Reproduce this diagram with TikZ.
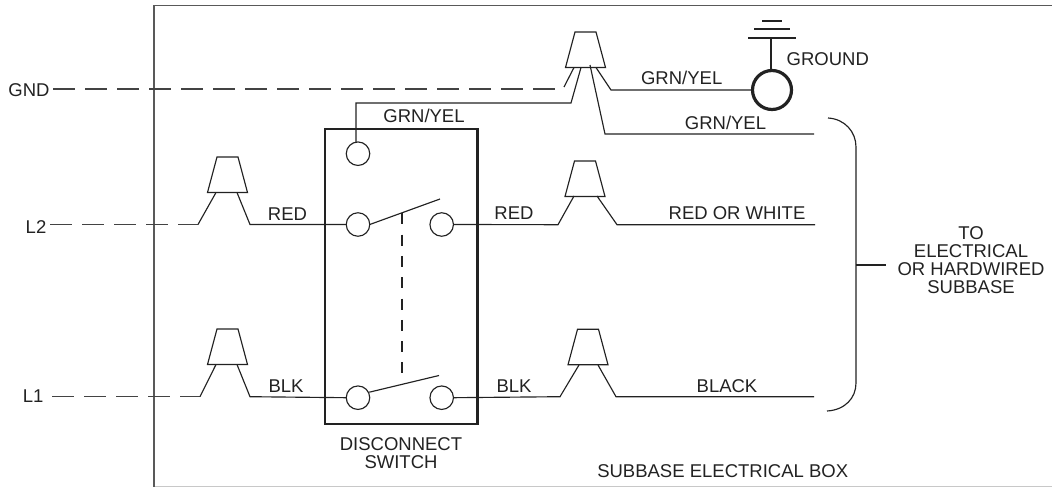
\documentclass[tikz,border=0pt]{standalone}
\usepackage{fontspec}
\setmainfont{Liberation Sans}
\usetikzlibrary{calc}
\definecolor{ink}{HTML}{222222}
\tikzset{
  wire/.style={draw=ink,line width=1.15pt,line join=miter},
  dashwire/.style={draw=ink!85,line width=1.15pt,dash pattern=on 21.5pt off 10.5pt},
  linkdash/.style={draw=ink,line width=1.15pt,dash pattern=on 11pt off 10.3pt},
  outerbox/.style={draw=ink!75,line width=1.4pt},
  swbox/.style={draw=ink,line width=2.8pt},
  term/.style={circle,draw=ink,line width=1.15pt,minimum size=23.5pt,inner sep=0pt,outer sep=0pt},
  gndterm/.style={circle,draw=ink,line width=3.2pt,minimum size=39pt,inner sep=0pt,outer sep=0pt},
  lbl/.style={text=ink,font=\fontsize{18.5}{18}\selectfont,inner sep=0pt,outer sep=0pt,text height=13pt,text depth=0pt},
  mlbl/.style={text=ink,font=\fontsize{18.5}{18}\selectfont,inner sep=0pt,outer sep=0pt,align=center}
}
% wirenut: name, centre x, top y
\newcommand\wirenut[3]{%
  \coordinate (#1) at (#2,#3);
  \draw[wire] ($(#1)+(-10.5,0)$) -- ($(#1)+(10.5,0)$) -- ($(#1)+(20,35.5)$) -- ($(#1)+(-20,35.5)$) -- cycle;
}
\begin{document}
\begin{tikzpicture}[x=1pt,y=-1pt]
\useasboundingbox (0,0) rectangle (1052,487);
% outer box
\coordinate (boxbl) at (154,487);
\coordinate (boxtl) at (154,5.7);
\coordinate (boxtr) at (1052,5.7);
\coordinate (boxbf) at (154,486);
\coordinate (boxbr) at (1052,486);
\draw[draw=ink!25,line width=0.8pt] (boxbf) -- (boxbr);
\draw[outerbox] (boxbl) -- (boxtl) -- (boxtr);
% switch box
\draw[swbox] (325,129) rectangle (477.7,424);
% terminals
\node[term] (tg) at (358,153.7) {};
\node[term] (t2l) at (358,224.5) {};
\node[term] (t2r) at (441.7,224.5) {};
\node[term] (t1l) at (358,397.7) {};
\node[term] (t1r) at (441.7,397.7) {};
\node[gndterm] (gt) at (772,90) {};
% wire nuts
\wirenut{ng}{585.5}{32}
\wirenut{n2l}{227.5}{157}
\wirenut{n1l}{227.5}{329}
\wirenut{n2r}{585}{161}
\wirenut{n1r}{588}{329.3}
% labels
\node[lbl,anchor=east] (lgnd) at (49.5,90) {GND};
\node[lbl,anchor=east] (ll2) at (46.3,226.5) {L2};
\node[lbl,anchor=east] (ll1) at (43.5,395.7) {L1};
\node[lbl] (lg1) at (424,116) {GRN/YEL};
\node[lbl] (lg2) at (681.7,77.7) {GRN/YEL};
\node[lbl] (lg3) at (725.5,122.7) {GRN/YEL};
\node[lbl,anchor=west] (lground) at (786.7,59) {GROUND};
\node[lbl] (lr1) at (287.5,213.7) {RED};
\node[lbl] (lr2) at (514,212.5) {RED};
\node[lbl] (lrw) at (737,212.5) {RED OR WHITE};
\node[lbl] (lb1) at (286,385.5) {BLK};
\node[lbl] (lb2) at (514,386) {BLK};
\node[lbl] (lbk) at (727,385.5) {BLACK};
\node[mlbl] (ldis) at (401,453) {DISCONNECT\\SWITCH};
\node[lbl] (lsub) at (722.7,471) {SUBBASE ELECTRICAL BOX};
\node[mlbl] (lto) at (971,260) {TO\\ELECTRICAL\\OR HARDWIRED\\SUBBASE};
% wire corner points
\coordinate (gs) at (53,89);
\coordinate (ge) at (556,89);
\coordinate (gu) at (564,87);
\coordinate (gu2) at (574,67.5);
\coordinate (g2a) at (581,67.5);
\coordinate (g2b) at (571,103);
\coordinate (g2c) at (356,103);
\coordinate (g2d) at (356,142);
\coordinate (g3a) at (596,67.5);
\coordinate (g3b) at (611,90);
\coordinate (g4a) at (590,65);
\coordinate (g4b) at (605,134);
\coordinate (g4c) at (814,134);
\coordinate (gnd0) at (771,38);
\coordinate (gnd1) at (771,70.5);
% GND run
\draw[dashwire] (gs) -- (ge);
\draw[wire] (gu) -- (gu2);
\draw[wire] (g2a) -- (g2b) -- (g2c) -- (g2d);
\draw[wire] (g3a) -- (g3b) -- (gt.west);
\draw[wire] (g4a) -- (g4b) -- (g4c);
% ground symbol
\draw[wire] (gnd0) -- (gnd1);
\draw[wire,line width=1.3pt] (748,38) -- (796,38);
\draw[wire,line width=1.3pt] (754,29) -- (790,29);
\draw[wire,line width=1.3pt] (762,21) -- (782,21);
% L2 row
\coordinate (a2) at (198,224.5);
\coordinate (a2t) at (216,192.5);
\coordinate (b2t) at (237,192.5);
\coordinate (b2) at (250,224.5);
\coordinate (c2) at (558,224.7);
\coordinate (c2t) at (574,196);
\coordinate (d2t) at (597,196);
\coordinate (d2) at (617,224.7);
\coordinate (e2) at (815,224.7);
\coordinate (s2) at (50,224.5);
\draw[dashwire] (s2) -- (a2);
\draw[wire] (a2) -- (a2t);
\draw[wire] (b2t) -- (b2) -- (t2l.west);
\draw[wire] (t2r.east) -- (c2) -- (c2t);
\draw[wire] (d2t) -- (d2) -- (e2);
% L1 row
\coordinate (a1) at (200,396.7);
\coordinate (a1t) at (216,364.5);
\coordinate (b1t) at (237,364.5);
\coordinate (b1) at (250,396.7);
\coordinate (c1) at (560,396.7);
\coordinate (c1t) at (579,365);
\coordinate (d1t) at (598,365);
\coordinate (d1) at (616,396.7);
\coordinate (e1) at (814,396.7);
\coordinate (s1) at (52,396.7);
\draw[dashwire] (s1) -- (a1);
\draw[wire] (a1) -- (a1t);
\draw[wire] (b1t) -- (b1) -- (t1l.west);
\draw[wire] (t1r.east) -- (c1) -- (c1t);
\draw[wire] (d1t) -- (d1) -- (e1);
% switch blades
\coordinate (bl2) at (440,199);
\coordinate (bl1) at (439,375.5);
\coordinate (lk2) at (402,213.3);
\coordinate (lk1) at (402,374);
\draw[wire] (t2l.east) -- (bl2);
\draw[wire] (t1l.east) ++(-0.5,-5.5) coordinate (t1s) -- (bl1);
\draw[linkdash] (lk2) -- (lk1);
% bracket
\coordinate (brt) at (828,118);
\coordinate (brb) at (827,411);
\coordinate (brm) at (856,265);
\coordinate (brs) at (886,265);
\draw[wire] (brt) .. controls (845,119) and (856,132) .. (856,147) -- (856,383) .. controls (856,398) and (845,410) .. (brb);
\draw[wire] (brm) -- (brs);
\end{tikzpicture}
\end{document}
